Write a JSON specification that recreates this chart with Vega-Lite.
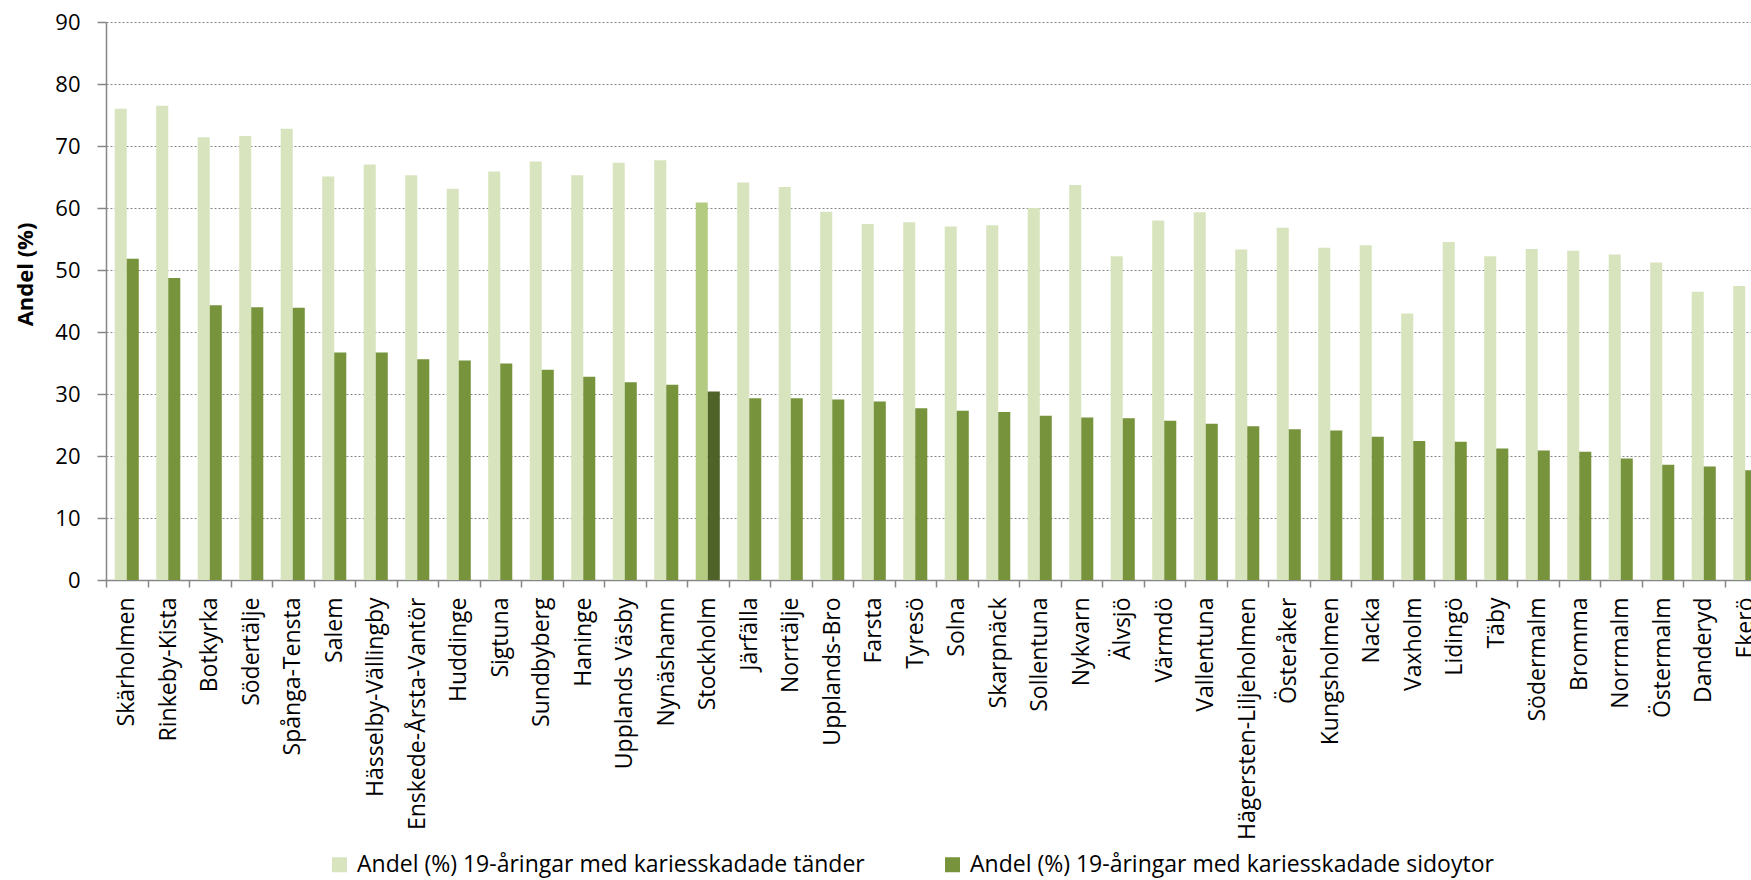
{
  "$schema": "https://vega.github.io/schema/vega-lite/v6.json",
  "autosize": {"type": "none"},
  "padding": {"left": 106, "top": 22, "right": 0, "bottom": 300},
  "width": 1645,
  "height": 558,
  "background": "white",
  "config": {"view": {"stroke": null}, "font": "Open Sans"},
  "data": {
    "values": [
      {"omrade": "Skärholmen", "tander": 76.0, "sidoytor": 51.8},
      {"omrade": "Rinkeby-Kista", "tander": 76.5, "sidoytor": 48.7},
      {"omrade": "Botkyrka", "tander": 71.4, "sidoytor": 44.3},
      {"omrade": "Södertälje", "tander": 71.6, "sidoytor": 44.0},
      {"omrade": "Spånga-Tensta", "tander": 72.8, "sidoytor": 43.9},
      {"omrade": "Salem", "tander": 65.1, "sidoytor": 36.7},
      {"omrade": "Hässelby-Vällingby", "tander": 67.0, "sidoytor": 36.7},
      {"omrade": "Enskede-Årsta-Vantör", "tander": 65.3, "sidoytor": 35.6},
      {"omrade": "Huddinge", "tander": 63.1, "sidoytor": 35.4},
      {"omrade": "Sigtuna", "tander": 65.9, "sidoytor": 34.9},
      {"omrade": "Sundbyberg", "tander": 67.5, "sidoytor": 33.9},
      {"omrade": "Haninge", "tander": 65.3, "sidoytor": 32.8},
      {"omrade": "Upplands Väsby", "tander": 67.3, "sidoytor": 31.9},
      {"omrade": "Nynäshamn", "tander": 67.7, "sidoytor": 31.5},
      {"omrade": "Stockholm", "tander": 60.9, "sidoytor": 30.4},
      {"omrade": "Järfälla", "tander": 64.1, "sidoytor": 29.3},
      {"omrade": "Norrtälje", "tander": 63.4, "sidoytor": 29.3},
      {"omrade": "Upplands-Bro", "tander": 59.4, "sidoytor": 29.1},
      {"omrade": "Farsta", "tander": 57.4, "sidoytor": 28.8},
      {"omrade": "Tyresö", "tander": 57.7, "sidoytor": 27.7},
      {"omrade": "Solna", "tander": 57.0, "sidoytor": 27.3},
      {"omrade": "Skarpnäck", "tander": 57.2, "sidoytor": 27.1},
      {"omrade": "Sollentuna", "tander": 60.0, "sidoytor": 26.5},
      {"omrade": "Nykvarn", "tander": 63.7, "sidoytor": 26.2},
      {"omrade": "Älvsjö", "tander": 52.2, "sidoytor": 26.1},
      {"omrade": "Värmdö", "tander": 58.0, "sidoytor": 25.7},
      {"omrade": "Vallentuna", "tander": 59.3, "sidoytor": 25.2},
      {"omrade": "Hägersten-Liljeholmen", "tander": 53.3, "sidoytor": 24.8},
      {"omrade": "Österåker", "tander": 56.8, "sidoytor": 24.3},
      {"omrade": "Kungsholmen", "tander": 53.6, "sidoytor": 24.1},
      {"omrade": "Nacka", "tander": 54.0, "sidoytor": 23.1},
      {"omrade": "Vaxholm", "tander": 43.0, "sidoytor": 22.4},
      {"omrade": "Lidingö", "tander": 54.5, "sidoytor": 22.3},
      {"omrade": "Täby", "tander": 52.2, "sidoytor": 21.2},
      {"omrade": "Södermalm", "tander": 53.4, "sidoytor": 20.9},
      {"omrade": "Bromma", "tander": 53.1, "sidoytor": 20.7},
      {"omrade": "Norrmalm", "tander": 52.5, "sidoytor": 19.6},
      {"omrade": "Östermalm", "tander": 51.2, "sidoytor": 18.6},
      {"omrade": "Danderyd", "tander": 46.5, "sidoytor": 18.3},
      {"omrade": "Ekerö", "tander": 47.4, "sidoytor": 17.7}
    ]
  },
  "transform": [{"fold": ["tander", "sidoytor"], "as": ["serie", "andel"]}],
  "mark": {"type": "bar"},
  "encoding": {
    "x": {
      "field": "omrade",
      "type": "nominal",
      "sort": null,
      "scale": {"range": [0, 1660], "paddingInner": 0.42, "paddingOuter": 0.21},
      "axis": {
        "title": null,
        "labelAngle": -90,
        "labelFont": "Open Sans",
        "labelFontSize": 23,
        "labelColor": "#000000",
        "labelLimit": 500,
        "labelPadding": 10,
        "tickOffset": -20.75,
        "labelOffset": 20.75,
        "tickSize": 7,
        "tickColor": "#868686",
        "tickWidth": 1.5,
        "domainColor": "#868686",
        "domainWidth": 1.5,
        "grid": false
      }
    },
    "xOffset": {
      "field": "serie",
      "type": "nominal",
      "sort": ["tander", "sidoytor"],
      "scale": {"paddingInner": 0, "paddingOuter": 0}
    },
    "y": {
      "field": "andel",
      "type": "quantitative",
      "scale": {"domain": [0, 90], "nice": false},
      "axis": {
        "title": "Andel (%)",
        "titleFont": "Open Sans",
        "titleFontSize": 22,
        "titleFontWeight": "bold",
        "titleColor": "#000000",
        "titleX": -81,
        "titleY": 252,
        "titleBaseline": "middle",
        "titleAlign": "center",
        "titleAngle": -90,
        "values": [0, 10, 20, 30, 40, 50, 60, 70, 80, 90],
        "labelFont": "Open Sans",
        "labelFontSize": 22,
        "labelColor": "#000000",
        "labelPadding": 17,
        "tickSize": 9,
        "tickColor": "#868686",
        "tickWidth": 1.5,
        "domainColor": "#868686",
        "domainWidth": 1.5,
        "grid": true,
        "gridColor": "#868686",
        "gridDash": [2, 2],
        "gridWidth": 1
      }
    },
    "color": {
      "condition": [
        {"test": "datum.omrade === 'Stockholm' && datum.serie === 'tander'", "value": "#B3CB81"},
        {"test": "datum.omrade === 'Stockholm' && datum.serie === 'sidoytor'", "value": "#4F6228"}
      ],
      "field": "serie",
      "type": "nominal",
      "sort": ["tander", "sidoytor"],
      "scale": {"domain": ["tander", "sidoytor"], "range": ["#D7E4BD", "#77933C"]},
      "legend": {
        "title": null,
        "orient": "none",
        "legendX": 222,
        "legendY": 831,
        "direction": "horizontal",
        "symbolType": "square",
        "symbolSize": 225,
        "symbolStrokeWidth": 0,
        "labelFont": "Open Sans",
        "labelFontSize": 23,
        "labelColor": "#000000",
        "labelLimit": 800,
        "labelOffset": 6,
        "columnPadding": 76,
        "labelExpr": "datum.label === 'tander' ? 'Andel (%) 19-åringar med kariesskadade tänder' : 'Andel (%) 19-åringar med kariesskadade sidoytor'"
      }
    }
  }
}
